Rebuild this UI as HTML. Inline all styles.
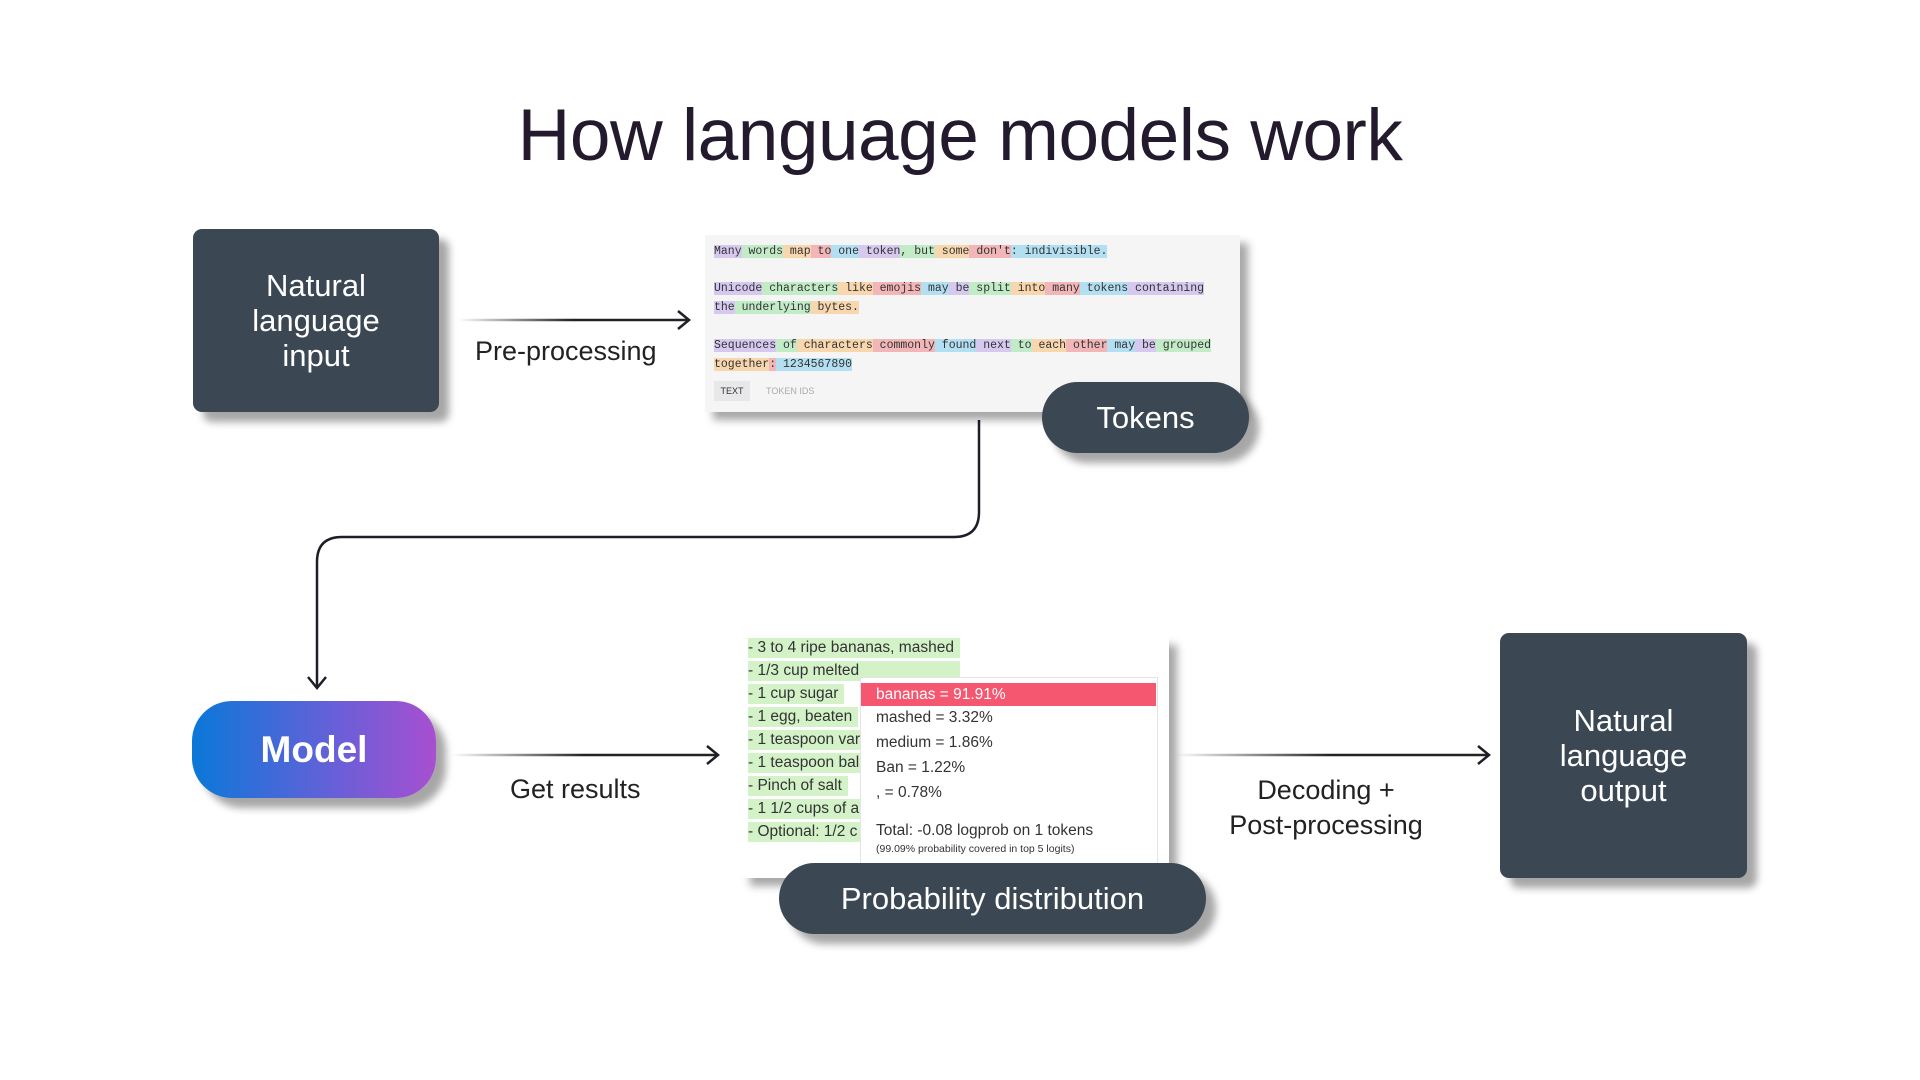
<!DOCTYPE html>
<html><head><meta charset="utf-8"><style>
body{margin:0;width:1920px;height:1080px;background:#fff;position:relative;overflow:hidden;font-family:"Liberation Sans",sans-serif}
.a{position:absolute}
.box{background:#3b4753;color:#fff;border-radius:9px;box-shadow:10px 10px 8px rgba(0,0,0,.35);display:flex;align-items:center;justify-content:center;text-align:center;font-size:31px;line-height:35px}
.pill{background:#3b4753;color:#fff;border-radius:40px;box-shadow:10px 10px 8px rgba(0,0,0,.35);display:flex;align-items:center;justify-content:center;font-size:31px}
.lbl{font-size:27px;color:#222;text-align:center;white-space:nowrap}
.tok{font-family:"Liberation Mono",monospace;font-size:11.5px;color:#333;white-space:nowrap}
.tok span:nth-child(5n+1){background:#d7c8f0}.tok span:nth-child(5n+2){background:#c2ecc8}.tok span:nth-child(5n+3){background:#f8d6ae}.tok span:nth-child(5n+4){background:#f3b6b8}.tok span:nth-child(5n+5){background:#b3dff2}
.li{font-size:15.5px;color:#333;background:#d3f2c8;white-space:nowrap;height:20px;line-height:20px;padding-right:6px}
.pp{font-size:15.5px;color:#333;white-space:nowrap}
</style></head><body>
<div class="a" style="left:0;top:94px;width:1920px;text-align:center;font-size:73px;color:#231a2e;letter-spacing:-0.5px">How language models work</div>

<div class="a box" style="left:193px;top:229px;width:246px;height:183px">Natural<br>language<br>input</div>

<svg class="a" style="left:0;top:0" width="1920" height="1080">
<defs>
<linearGradient id="g1" gradientUnits="userSpaceOnUse" x1="458" y1="0" x2="688" y2="0"><stop offset="0" stop-color="#fff"/><stop offset=".5" stop-color="#222"/></linearGradient>
<linearGradient id="g2" gradientUnits="userSpaceOnUse" x1="452" y1="0" x2="717" y2="0"><stop offset="0" stop-color="#fff"/><stop offset=".5" stop-color="#222"/></linearGradient>
<linearGradient id="g3" gradientUnits="userSpaceOnUse" x1="1175" y1="0" x2="1488" y2="0"><stop offset="0" stop-color="#fff"/><stop offset=".5" stop-color="#222"/></linearGradient>
</defs>
<g fill="none" stroke="#1e1e28" stroke-width="2.5">
<line x1="458" y1="320" x2="688" y2="320" stroke="url(#g1)"/>
<polyline points="678,311 689,320 678,329"/>
<path d="M979 420 V512 Q979 537 954 537 H342 Q317 537 317 562 V687"/>
<polyline points="308,677 317,688 326,677"/>
<line x1="452" y1="755" x2="717" y2="755" stroke="url(#g2)"/>
<polyline points="707,746 718,755 707,764"/>
<line x1="1175" y1="755" x2="1488" y2="755" stroke="url(#g3)"/>
<polyline points="1478,746 1489,755 1478,764"/>
</g></svg>

<div class="a lbl" style="left:475px;top:336px">Pre-processing</div>

<div class="a" style="left:705px;top:235px;width:535px;height:177px;background:#f5f5f5;box-shadow:8px 8px 8px rgba(0,0,0,.35)"></div>
<div class="a tok" style="left:714px;top:245px"><span>Many</span><span> words</span><span> map</span><span> to</span><span> one</span><span> token</span><span>, but</span><span> some</span><span> don't</span><span>: indivisible.</span></div>
<div class="a tok" style="left:714px;top:282px"><span>Unicode</span><span> characters</span><span> like</span><span> emojis</span><span> may</span><span> be</span><span> split</span><span> into</span><span> many</span><span> tokens</span><span> containing</span></div>
<div class="a tok" style="left:714px;top:301px"><span> the</span><span> underlying</span><span> bytes.</span></div>
<div class="a tok" style="left:714px;top:339px"><span>Sequences</span><span> of</span><span> characters</span><span> commonly</span><span> found</span><span> next</span><span> to</span><span> each</span><span> other</span><span> may</span><span> be</span><span> grouped</span></div>
<div class="a tok" style="left:714px;top:358px"><span style="background:#f8d6ae"> together</span><span style="background:#f3b6b8">:</span><span style="background:#b3dff2"> 1234567890</span></div>
<div class="a" style="left:714px;top:381px;width:36px;height:20px;background:#e8e8ea;font-size:9px;color:#333;text-align:center;line-height:20px">TEXT</div>
<div class="a" style="left:766px;top:381px;font-size:9px;color:#aaa;line-height:20px">TOKEN IDS</div>
<div class="a pill" style="left:1042px;top:382px;width:207px;height:71px">Tokens</div>

<div class="a pill" style="left:192px;top:701px;width:244px;height:97px;background:linear-gradient(90deg,#0a78d8,#6a5fd8 60%,#a84fd0);font-size:37px;font-weight:bold">Model</div>
<div class="a lbl" style="left:510px;top:774px">Get results</div>

<div class="a" style="left:742px;top:637px;width:427px;height:241px;background:#fff;box-shadow:8px 8px 8px rgba(0,0,0,.35)"></div>
<div class="a" style="left:748px;top:638px">
<div class="li">- 3 to 4 ripe bananas, mashed</div>
<div class="li" style="margin-top:3px">- 1/3 cup melted</div>
<div class="li" style="margin-top:3px;display:inline-block">- 1 cup sugar</div>
<div class="li" style="margin-top:3px;display:table">- 1 egg, beaten</div>
<div class="li" style="margin-top:3px">- 1 teaspoon var</div>
<div class="li" style="margin-top:3px">- 1 teaspoon bal</div>
<div class="li" style="margin-top:3px;display:table">- Pinch of salt</div>
<div class="li" style="margin-top:3px">- 1 1/2 cups of al</div>
<div class="li" style="margin-top:3px">- Optional: 1/2 c</div>
</div>
<div class="a" style="left:860px;top:677px;width:296px;height:185px;background:#fff;border:1px solid #e4e4e4"></div>
<div class="a pp" style="left:861px;top:683px;width:295px;height:23px;background:#f4576f;color:#fff;line-height:23px;text-indent:15px">bananas = 91.91%</div>
<div class="a pp" style="left:876px;top:709px">mashed = 3.32%</div>
<div class="a pp" style="left:876px;top:734px">medium = 1.86%</div>
<div class="a pp" style="left:876px;top:759px">Ban = 1.22%</div>
<div class="a pp" style="left:876px;top:784px">, = 0.78%</div>
<div class="a pp" style="left:876px;top:822px">Total: -0.08 logprob on 1 tokens</div>
<div class="a pp" style="left:876px;top:843px;font-size:10.5px">(99.09% probability covered in top 5 logits)</div>
<div class="a pill" style="left:779px;top:863px;width:427px;height:71px">Probability distribution</div>

<div class="a lbl" style="left:1176px;top:773px;width:300px;line-height:35px">Decoding +<br>Post-processing</div>
<div class="a box" style="left:1500px;top:633px;width:247px;height:245px">Natural<br>language<br>output</div>
</body></html>
